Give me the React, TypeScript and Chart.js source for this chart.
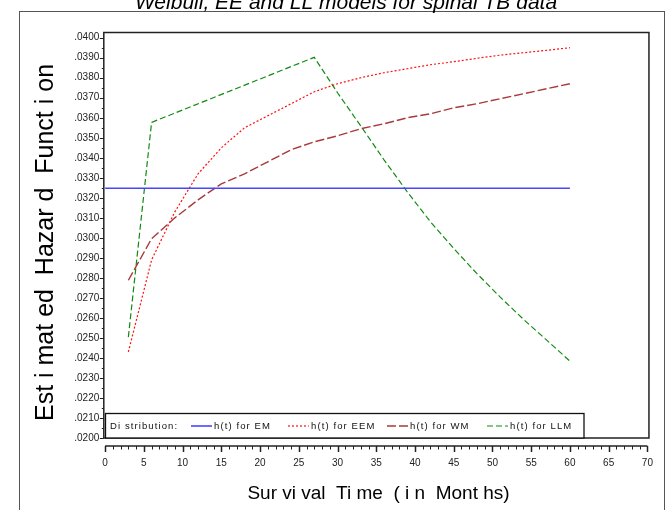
import React, { useEffect, useRef } from 'react';
import { Chart, registerables } from 'chart.js';

Chart.register(...registerables);

const chartTitle = 'Weibull, EE and LL models for spinal TB data';
const yAxisTitle = 'Est i mat ed  Hazar d  Funct i on';
const xAxisTitle = 'Sur vi val  Ti me  ( i n  Mont hs)';
const legendTitle = 'Di stribution:';

const times = [3, 6, 9, 12, 15, 18, 21, 24, 27, 30, 33, 36, 39, 42, 45, 48, 51, 54, 57, 60];
const emTimes = [0, 60];
const emHazard = [0.03248, 0.03248];
const eemHazard = [0.0243, 0.0289, 0.0313, 0.0332, 0.0345, 0.0355, 0.0361, 0.0367, 0.0373, 0.0377, 0.0380, 0.03825, 0.03845, 0.03865, 0.0388, 0.03897, 0.03913, 0.03925, 0.03937, 0.0395];
const wmHazard = [0.02788, 0.02996, 0.0310, 0.0319, 0.0327, 0.0332, 0.0338, 0.0344, 0.0348, 0.0351, 0.03545, 0.0357, 0.0360, 0.0362, 0.0365, 0.0367, 0.03695, 0.0372, 0.03745, 0.0377];
const llmTimes = [3, 6, 27, 30, 33, 36, 39, 42, 45, 48, 51, 54, 57, 60];
const llmHazard = [0.02504, 0.03577, 0.03902, 0.03725, 0.03559, 0.0339, 0.0323, 0.0308, 0.02947, 0.02821, 0.02704, 0.02593, 0.02489, 0.02384];

const seriesLabels = ['h(t) for EM', 'h(t) for EEM', 'h(t) for WM', 'h(t) for LLM'];
const seriesColors = ['#4646ff', '#ff1010', '#a83a3a', '#108a10'];
const seriesDashes: number[][] = [[], [2, 2], [9, 3], [6, 3]];
const seriesWidths = [1.6, 1.2, 1.4, 1.2];

const xTickValues = [0, 5, 10, 15, 20, 25, 30, 35, 40, 45, 50, 55, 60, 65, 70];
const yTickValues = [0.020, 0.021, 0.022, 0.023, 0.024, 0.025, 0.026, 0.027, 0.028, 0.029, 0.030, 0.031, 0.032, 0.033, 0.034, 0.035, 0.036, 0.037, 0.038, 0.039, 0.040];

const FONT = '"Liberation Sans", Arial, Helvetica, sans-serif';

const pts = (xs: number[], ys: number[]) => xs.map((x, i) => ({ x, y: ys[i] }));

const decorPlugin = {
  id: 'decor',
  afterDraw(chart: any) {
    const ctx: CanvasRenderingContext2D = chart.ctx;
    const area = chart.chartArea;
    const xs = chart.scales.x;
    const ys = chart.scales.y;
    ctx.save();

    // outer border
    ctx.strokeStyle = '#555';
    ctx.lineWidth = 1;
    ctx.strokeRect(19.5, 11.5, 645, 600);

    // title (partly cut at the top)
    ctx.fillStyle = '#000';
    ctx.font = `italic 21px ${FONT}`;
    ctx.textAlign = 'center';
    ctx.textBaseline = 'alphabetic';
    ctx.fillText(chartTitle, 346, 8.5);

    // frame
    ctx.strokeStyle = '#222';
    ctx.lineWidth = 1.5;
    ctx.strokeRect(area.left, area.top, area.right - area.left, area.bottom - area.top);

    // y ticks (major + minor)
    ctx.lineWidth = 1;
    ctx.strokeStyle = '#222';
    for (let i = 0; i < yTickValues.length; i++) {
      const py = Math.round(ys.getPixelForValue(yTickValues[i])) + 0.5;
      ctx.beginPath();
      ctx.moveTo(area.left - 4, py);
      ctx.lineTo(area.left, py);
      ctx.stroke();
      if (i < yTickValues.length - 1) {
        const mv = (yTickValues[i] + yTickValues[i + 1]) / 2;
        const pm = Math.round(ys.getPixelForValue(mv)) + 0.5;
        ctx.beginPath();
        ctx.moveTo(area.left - 2, pm);
        ctx.lineTo(area.left, pm);
        ctx.stroke();
      }
    }

    // separate x axis line below the frame
    const axisY = area.bottom + 8;
    const x0 = xs.getPixelForValue(xTickValues[0]);
    const x1 = xs.getPixelForValue(xTickValues[xTickValues.length - 1]);
    ctx.lineWidth = 1.5;
    ctx.beginPath();
    ctx.moveTo(x0, axisY);
    ctx.lineTo(x1, axisY);
    ctx.stroke();
    ctx.lineWidth = 1;
    for (let i = 0; i < xTickValues.length; i++) {
      const px = Math.round(xs.getPixelForValue(xTickValues[i])) + 0.5;
      ctx.lineWidth = 1.5;
      ctx.beginPath();
      ctx.moveTo(px, axisY);
      ctx.lineTo(px, axisY + 6);
      ctx.stroke();
      if (i < xTickValues.length - 1) {
        ctx.lineWidth = 1;
        const step = (xTickValues[i + 1] - xTickValues[i]) / 5;
        for (let k = 1; k < 5; k++) {
          const pm = Math.round(xs.getPixelForValue(xTickValues[i] + k * step)) + 0.5;
          ctx.beginPath();
          ctx.moveTo(pm, axisY);
          ctx.lineTo(pm, axisY + 3.5);
          ctx.stroke();
        }
      }
    }

    // axis titles
    ctx.fillStyle = '#000';
    ctx.font = `19px ${FONT}`;
    ctx.textAlign = 'center';
    ctx.textBaseline = 'alphabetic';
    ctx.fillText(xAxisTitle, 378.5, 499);

    ctx.save();
    ctx.translate(53, 242.5);
    ctx.rotate(-Math.PI / 2);
    ctx.font = `25px ${FONT}`;
    ctx.fillText(yAxisTitle, 0, 0);
    ctx.restore();

    // legend box inside plot
    const lgTop = 413.5;
    const lgBottom = area.bottom;
    const lgLeft = 105.5;
    const lgRight = 584;
    ctx.fillStyle = '#fff';
    ctx.fillRect(lgLeft, lgTop, lgRight - lgLeft, lgBottom - lgTop);
    ctx.strokeStyle = '#111';
    ctx.lineWidth = 1.3;
    ctx.strokeRect(lgLeft, lgTop, lgRight - lgLeft, lgBottom - lgTop);

    const cy = 426;
    ctx.fillStyle = '#111';
    ctx.font = `9.5px ${FONT}`;
    ctx.textAlign = 'left';
    ctx.textBaseline = 'middle';
    try { (ctx as any).letterSpacing = '1.1px'; } catch (e) { /* ignore */ }
    ctx.fillText(legendTitle, 110, cy);
    const sampleStarts = [191, 288, 387, 487];
    chart.data.datasets.forEach((ds: any, i: number) => {
      const sx = sampleStarts[i];
      ctx.save();
      ctx.strokeStyle = ds.borderColor;
      ctx.lineWidth = ds.borderWidth;
      ctx.setLineDash(ds.borderDash || []);
      ctx.beginPath();
      ctx.moveTo(sx, cy);
      ctx.lineTo(sx + 21, cy);
      ctx.stroke();
      ctx.restore();
      ctx.fillStyle = '#111';
      ctx.fillText(ds.label, sx + 23, cy);
    });
    ctx.restore();
  },
};

export default function App() {
  const ref = useRef<HTMLCanvasElement | null>(null);

  useEffect(() => {
    if (!ref.current) return;
    const seriesData = [
      pts(emTimes, emHazard),
      pts(times, eemHazard),
      pts(times, wmHazard),
      pts(llmTimes, llmHazard),
    ];
    const chart = new Chart(ref.current, {
      type: 'line',
      data: {
        datasets: seriesData.map((d, i) => ({
          label: seriesLabels[i],
          data: d,
          borderColor: seriesColors[i],
          backgroundColor: seriesColors[i],
          borderDash: seriesDashes[i],
          borderWidth: seriesWidths[i],
          pointRadius: 0,
          tension: 0,
          fill: false,
        })),
      },
      options: {
        animation: false,
        responsive: false,
        devicePixelRatio: 1,
        layout: { padding: { top: 32.5, right: 14.5, left: 0, bottom: 0 } },
        plugins: {
          legend: { display: false },
          title: { display: false },
          tooltip: { enabled: false },
        },
        scales: {
          x: {
            type: 'linear',
            min: -0.17,
            max: 70.2,
            grid: { display: false, drawTicks: false },
            border: { display: false },
            afterBuildTicks: (s: any) => { s.ticks = xTickValues.map((v) => ({ value: v })); },
            afterFit: (s: any) => { s.height = 72; },
            ticks: {
              autoSkip: false,
              maxRotation: 0,
              padding: 19,
              color: '#222',
              font: { family: FONT, size: 10 },
              callback: (v: any) => String(v),
            },
          },
          y: {
            type: 'linear',
            min: 0.02,
            max: 0.04026,
            grid: { display: false, drawTicks: false },
            border: { display: false },
            afterBuildTicks: (s: any) => { s.ticks = yTickValues.map((v) => ({ value: v })); },
            afterFit: (s: any) => { s.width = 103.8; },
            ticks: {
              autoSkip: false,
              padding: 4.5,
              color: '#222',
              font: { family: FONT, size: 10 },
              callback: (v: any) => Number(v).toFixed(4).replace(/^0/, ''),
            },
          },
        },
      },
      plugins: [decorPlugin],
    } as any);
    return () => chart.destroy();
  }, []);

  return (
    <div style={{ position: 'absolute', left: 0, top: 0, width: 672, height: 510, background: '#fff' }}>
      <canvas ref={ref} width={672} height={510} style={{ display: 'block' }} />
    </div>
  );
}
